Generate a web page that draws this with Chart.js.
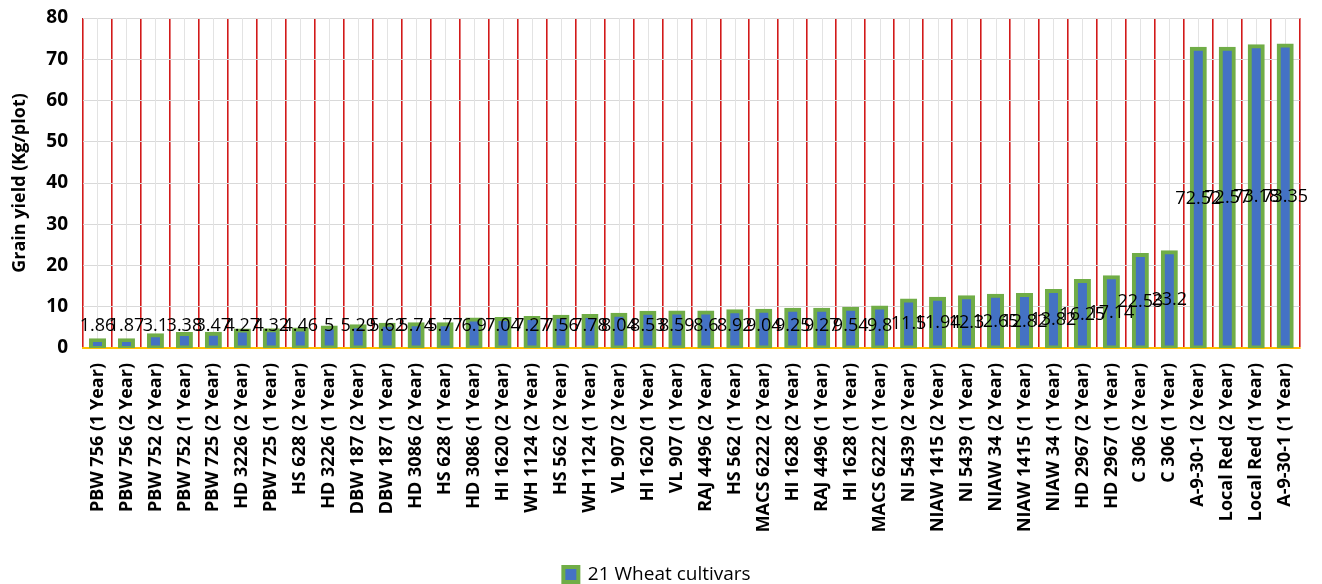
<!DOCTYPE html>
<html>
<head>
<meta charset="utf-8">
<title>Grain yield of wheat cultivars</title>
<script src="https://cdn.jsdelivr.net/npm/chart.js@4.4.1/dist/chart.umd.min.js"></script>
<style>
  html, body { margin: 0; padding: 0; background: #ffffff; }
  #wrap { width: 1322px; height: 584px; position: relative; }
</style>
</head>
<body>
<div id="wrap"><canvas id="chart" width="1322" height="584"></canvas></div>
<script>
// Cultivar / season categories, in plotted order
const cultivars = [
  'PBW 756 (1 Year)', 'PBW 756 (2 Year)', 'PBW 752 (2 Year)', 'PBW 752 (1 Year)',
  'PBW 725 (2 Year)', 'HD 3226 (2 Year)', 'PBW 725 (1 Year)', 'HS 628 (2 Year)',
  'HD 3226 (1 Year)', 'DBW 187 (2 Year)', 'DBW 187 (1 Year)', 'HD 3086 (2 Year)',
  'HS 628 (1 Year)', 'HD 3086 (1 Year)', 'HI 1620 (2 Year)', 'WH 1124 (2 Year)',
  'HS 562 (2 Year)', 'WH 1124 (1 Year)', 'VL 907 (2 Year)', 'HI 1620 (1 Year)',
  'VL 907 (1 Year)', 'RAJ 4496 (2 Year)', 'HS 562 (1 Year)', 'MACS 6222 (2 Year)',
  'HI 1628 (2 Year)', 'RAJ 4496 (1 Year)', 'HI 1628 (1 Year)', 'MACS 6222 (1 Year)',
  'NI 5439 (2 Year)', 'NIAW 1415 (2 Year)', 'NI 5439 (1 Year)', 'NIAW 34 (2 Year)',
  'NIAW 1415 (1 Year)', 'NIAW 34 (1 Year)', 'HD 2967 (2 Year)', 'HD 2967 (1 Year)',
  'C 306 (2 Year)', 'C 306 (1 Year)', 'A-9-30-1 (2 Year)', 'Local Red (2 Year)',
  'Local Red (1 Year)', 'A-9-30-1 (1 Year)'
];

// Grain yield, Kg per plot
const grainYield = [
  1.86, 1.87, 3.1, 3.38, 3.47, 4.27, 4.32, 4.46, 5, 5.29,
  5.62, 5.74, 5.77, 6.9, 7.04, 7.27, 7.56, 7.78, 8.04, 8.53,
  8.59, 8.6, 8.92, 9.04, 9.25, 9.27, 9.54, 9.8, 11.5, 11.94,
  12.3, 12.65, 12.82, 13.82, 16.25, 17.14, 22.53, 23.2, 72.52, 72.57,
  73.18, 73.35
];

const seriesName = '21 Wheat cultivars';
const yAxisTitle = 'Grain yield (Kg/plot)';
const yMin = 0;
const yMax = 80;
const yStep = 10;

const FONT = "'Open Sans', 'Noto Sans', 'DejaVu Sans', sans-serif";
const PLOT_BOTTOM = 348;

// Light vertical lines through the middle of every category
const centerLines = {
  id: 'centerLines',
  beforeDatasetsDraw(chart) {
    const { ctx, chartArea, scales } = chart;
    const x = scales.x;
    ctx.save();
    ctx.strokeStyle = '#e3e3e3';
    ctx.lineWidth = 1;
    for (let i = 0; i < cultivars.length; i++) {
      const px = Math.round(x.getPixelForValue(i)) + 0.5;
      ctx.beginPath();
      ctx.moveTo(px, chartArea.top);
      ctx.lineTo(px, chartArea.bottom);
      ctx.stroke();
    }
    ctx.restore();
  }
};

// Value labels, centred on the bar (kept clear of the baseline for short bars)
const valueLabels = {
  id: 'valueLabels',
  afterDatasetsDraw(chart) {
    const { ctx, scales } = chart;
    const meta = chart.getDatasetMeta(0);
    const y = scales.y;
    const floorY = y.getPixelForValue(0) - 22;
    ctx.save();
    ctx.font = '18px ' + FONT;
    ctx.fillStyle = '#000000';
    ctx.textAlign = 'center';
    ctx.textBaseline = 'middle';
    meta.data.forEach((bar, i) => {
      const v = grainYield[i];
      const py = Math.min(y.getPixelForValue(v / 2), floorY);
      ctx.fillText(String(v), bar.x, py);
    });
    ctx.restore();
  }
};

new Chart(document.getElementById('chart'), {
  type: 'bar',
  data: {
    labels: cultivars,
    datasets: [{
      label: seriesName,
      data: grainYield,
      backgroundColor: '#4472C4',
      borderColor: '#70AD47',
      borderWidth: 4,
      borderSkipped: false,
      inflateAmount: 2,
      barPercentage: 0.45,
      categoryPercentage: 1.0
    }]
  },
  options: {
    responsive: false,
    animation: false,
    devicePixelRatio: 1,
    layout: { padding: { top: 18, right: 17, left: 9, bottom: -10 } },
    plugins: {
      legend: {
        position: 'bottom',
        labels: {
          color: '#000000',
          font: { family: FONT, size: 19 },
          boxWidth: 15,
          boxHeight: 15,
          padding: 0
        }
      },
      tooltip: { enabled: false }
    },
    scales: {
      x: {
        z: 1,
        offset: true,
        grid: {
          offset: true,
          color: '#d21a1a',
          lineWidth: 1.6,
          drawTicks: false
        },
        border: { display: true, color: '#FFC000', width: 2 },
        ticks: {
          color: '#000000',
          font: { family: FONT, size: 18, weight: 'bold' },
          minRotation: 90,
          maxRotation: 90,
          autoSkip: false,
          padding: 15
        },
        afterFit(scale) {
          const lg = scale.chart.legend;
          const lh = lg ? lg.height : 0;
          scale.height = 584 - PLOT_BOTTOM - lh + 10;
        }
      },
      y: {
        min: yMin,
        max: yMax,
        grid: { color: '#d9d9d9', lineWidth: 1, drawTicks: false },
        border: { display: false },
        ticks: {
          stepSize: yStep,
          color: '#000000',
          font: { family: FONT, size: 19, weight: 'bold' },
          padding: 15
        },
        title: {
          display: true,
          text: yAxisTitle,
          color: '#000000',
          font: { family: FONT, size: 18, weight: 'bold' },
          padding: { top: 0, bottom: 4 }
        },
        afterFit(scale) {
          scale.width = 74;
          scale.paddingTop = 0;
          scale.paddingBottom = 0;
        }
      }
    }
  },
  plugins: [centerLines, valueLabels]
});
</script>
</body>
</html>
